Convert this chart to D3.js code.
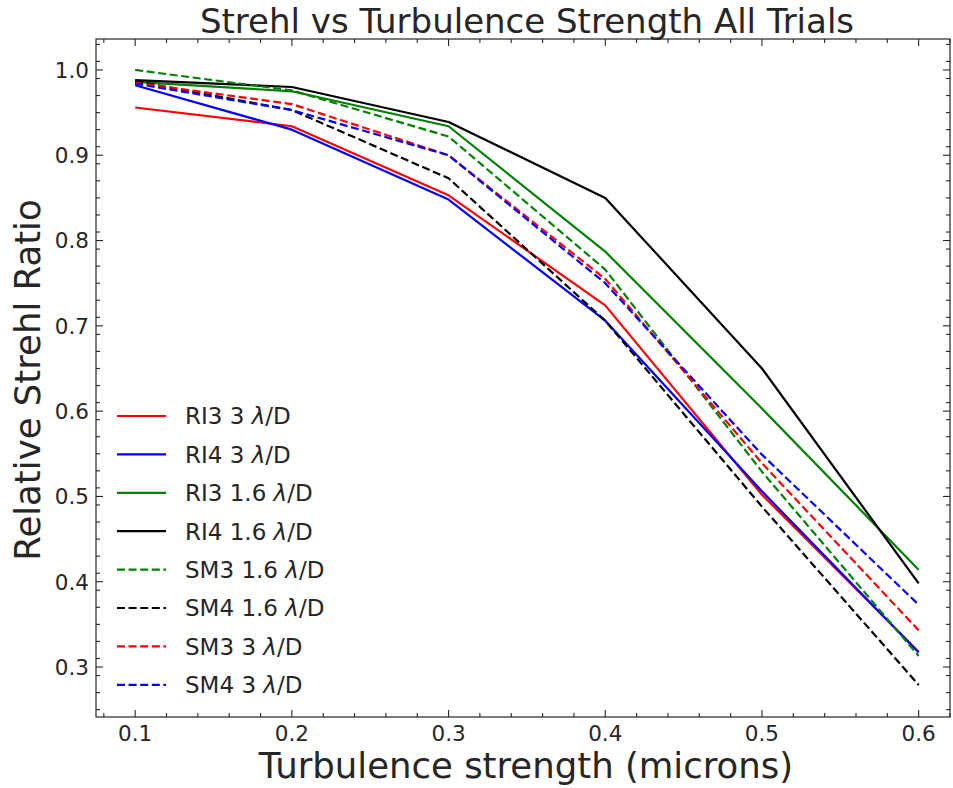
<!DOCTYPE html>
<html><head><meta charset="utf-8">
<script src="https://cdn.jsdelivr.net/npm/d3@7"></script>
<style>body{margin:0;background:#fff}svg{display:block}text{font-family:"DejaVu Sans",sans-serif;fill:#262626}</style>
</head><body>
<svg id="c" width="953" height="788"></svg>
<script>
const turbulence = [0.1, 0.2, 0.3, 0.4, 0.5, 0.6];
const seriesNames = ["RI3 3 λ/D","RI4 3 λ/D","RI3 1.6 λ/D","RI4 1.6 λ/D","SM3 1.6 λ/D","SM4 1.6 λ/D","SM3 3 λ/D","SM4 3 λ/D"];
const ri3_3   = [0.956, 0.934, 0.853, 0.724, 0.502, 0.318];
const ri4_3   = [0.982, 0.930, 0.848, 0.706, 0.506, 0.317];
const ri3_16  = [0.986, 0.975, 0.934, 0.787, 0.603, 0.414];
const ri4_16  = [0.988, 0.980, 0.939, 0.850, 0.650, 0.398];
const sm3_16  = [1.000, 0.976, 0.922, 0.766, 0.529, 0.313];
const sm4_16  = [0.987, 0.953, 0.873, 0.706, 0.488, 0.279];
const sm3_3   = [0.985, 0.960, 0.900, 0.755, 0.539, 0.343];
const sm4_3   = [0.984, 0.953, 0.900, 0.750, 0.549, 0.373];
const seriesValues = [ri3_3, ri4_3, ri3_16, ri4_16, sm3_16, sm4_16, sm3_3, sm4_3];
const seriesColors = ["#ff0000","#0000ff","#008000","#000000","#008000","#000000","#ff0000","#0000ff"];
const seriesDashed = [false,false,false,false,true,true,true,true];
const xTicks = [0.1,0.2,0.3,0.4,0.5,0.6];
const yTicks = [0.3,0.4,0.5,0.6,0.7,0.8,0.9,1.0];

const L=96,R=950,T=39,B=717;
const svg=d3.select("#c");
const x=d3.scaleLinear().domain([0.075,0.62]).range([L,R]);
const y=d3.scaleLinear().domain([0.2414,1.0363]).range([B,T]);

const xMinor=d3.range(0.08,0.621,0.02).filter(v=>!xTicks.some(t=>Math.abs(t-v)<1e-6));
const yMinor=d3.range(0.25,1.036,0.02).filter(v=>!yTicks.some(t=>Math.abs(t-v)<1e-6));

const g=svg.append("g");
const line=d3.line().x((d,i)=>x(turbulence[i])).y(d=>y(d));
seriesValues.forEach((vals,k)=>{
  g.append("path").attr("d",line(vals)).attr("fill","none")
   .attr("stroke",seriesColors[k]).attr("stroke-width",2.2)
   .attr("stroke-dasharray",seriesDashed[k]?"8,3.6":null)
   .attr("stroke-linejoin","round");
});
svg.append("rect").attr("x",L).attr("y",T).attr("width",R-L).attr("height",B-T)
  .attr("fill","none").attr("stroke","#262626").attr("stroke-width",1.2);

function ticks(vals,len,isX){
  vals.forEach(v=>{
    if(isX){
      const px=x(v);
      svg.append("line").attr("x1",px).attr("x2",px).attr("y1",B).attr("y2",B-len).attr("stroke","#262626").attr("stroke-width",1.1);
      svg.append("line").attr("x1",px).attr("x2",px).attr("y1",T).attr("y2",T+len).attr("stroke","#262626").attr("stroke-width",1.1);
    } else {
      const py=y(v);
      svg.append("line").attr("x1",L).attr("x2",L+len).attr("y1",py).attr("y2",py).attr("stroke","#262626").attr("stroke-width",1.1);
      svg.append("line").attr("x1",R).attr("x2",R-len).attr("y1",py).attr("y2",py).attr("stroke","#262626").attr("stroke-width",1.1);
    }
  });
}
ticks(xTicks,7,true); ticks(xMinor,4,true);
ticks(yTicks,7,false); ticks(yMinor,4,false);

xTicks.forEach(v=>{
  svg.append("text").attr("x",x(v)).attr("y",741).attr("text-anchor","middle").attr("font-size",21.5).text(d3.format(".1f")(v));
});
yTicks.forEach(v=>{
  svg.append("text").attr("x",89).attr("y",y(v)+7.8).attr("text-anchor","end").attr("font-size",21.5).text(d3.format(".1f")(v));
});

svg.append("text").attr("x",527).attr("y",33).attr("text-anchor","middle").attr("font-size",34).text("Strehl vs Turbulence Strength All Trials");
svg.append("text").attr("x",526).attr("y",778).attr("text-anchor","middle").attr("font-size",35.5).text("Turbulence strength (microns)");
svg.append("text").attr("transform","translate(40,380) rotate(-90)").attr("text-anchor","middle").attr("font-size",35.5).text("Relative Strehl Ratio");

seriesNames.forEach((n,k)=>{
  const ly=416+k*38.4;
  svg.append("line").attr("x1",117).attr("x2",166).attr("y1",ly).attr("y2",ly)
    .attr("stroke",seriesColors[k]).attr("stroke-width",2.2)
    .attr("stroke-dasharray",seriesDashed[k]?"8,3.6":null);
  const parts=n.split("λ");
  const t=svg.append("text").attr("x",185).attr("y",ly+8.3).attr("font-size",23);
  t.append("tspan").text(parts[0]);
  t.append("tspan").attr("font-style","italic").text("λ");
  t.append("tspan").text(parts[1]);
});
</script>
</body></html>
